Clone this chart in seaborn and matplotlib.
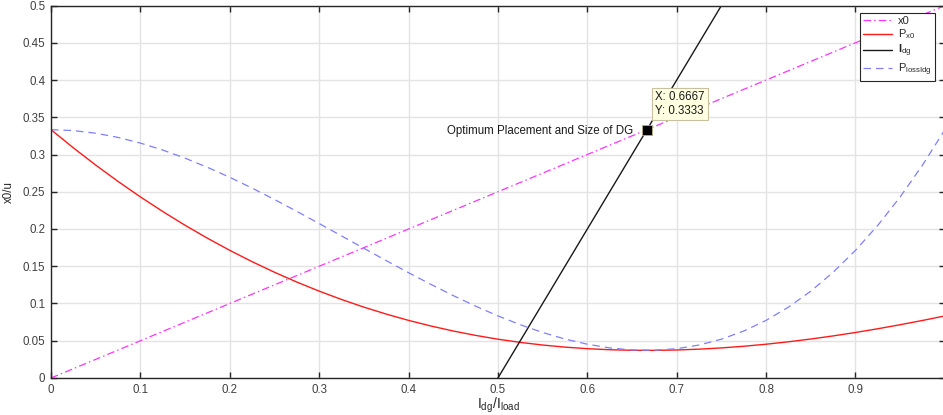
import matplotlib
matplotlib.use("Agg")
import matplotlib.pyplot as plt
import numpy as np
import pandas as pd
import seaborn as sns

# Normalised DG current I_dg / I_load
ratio = [0.0, 0.025, 0.05, 0.075, 0.1, 0.125, 0.15, 0.175, 0.2, 0.225, 0.25,
         0.275, 0.3, 0.325, 0.35, 0.375, 0.4, 0.425, 0.45, 0.475, 0.5,
         0.525, 0.55, 0.575, 0.6, 0.625, 0.65, 0.675, 0.7, 0.725, 0.75,
         0.775, 0.8, 0.825, 0.85, 0.875, 0.9, 0.925, 0.95, 0.975, 1.0]

# DG location x0 along the feeder
x0_vals = [0.0, 0.0125, 0.025, 0.0375, 0.05, 0.0625, 0.075, 0.0875, 0.1, 0.1125, 0.125,
           0.1375, 0.15, 0.1625, 0.175, 0.1875, 0.2, 0.2125, 0.225, 0.2375, 0.25,
           0.2625, 0.275, 0.2875, 0.3, 0.3125, 0.325, 0.3375, 0.35, 0.3625, 0.375,
           0.3875, 0.4, 0.4125, 0.425, 0.4375, 0.45, 0.4625, 0.475, 0.4875, 0.5]

# Losses with DG at x0
px0_vals = [0.33333, 0.30895, 0.28580, 0.26385, 0.24308, 0.22347, 0.20499, 0.18762,
            0.17133, 0.15611, 0.14193, 0.12876, 0.11658, 0.10538, 0.09511, 0.08578,
            0.07733, 0.06977, 0.06305, 0.05717, 0.05208, 0.04778, 0.04424, 0.04143,
            0.03933, 0.03792, 0.03718, 0.03707, 0.03758, 0.03869, 0.04036, 0.04259,
            0.04533, 0.04858, 0.05230, 0.05648, 0.06108, 0.06610, 0.07149, 0.07724,
            0.08333]

# Losses as a function of DG current
ploss_vals = [0.33333, 0.33211, 0.32858, 0.32293, 0.31533, 0.30599, 0.29508, 0.28280,
              0.26933, 0.25487, 0.23958, 0.22368, 0.20733, 0.19074, 0.17408, 0.15755,
              0.14133, 0.12562, 0.11058, 0.09643, 0.08333, 0.07149, 0.06108, 0.05230,
              0.04533, 0.04037, 0.03758, 0.03718, 0.03933, 0.04424, 0.05208, 0.06305,
              0.07733, 0.09512, 0.11658, 0.14193, 0.17133, 0.20499, 0.24308, 0.28580,
              0.33333]

# I_dg line
idg_x = [0.5, 0.75]
idg_y = [0.0, 0.5]

# Optimum point
opt_x = 0.6667
opt_y = 0.3333

x_ticks = [0, 0.1, 0.2, 0.3, 0.4, 0.5, 0.6, 0.7, 0.8, 0.9, 1]
x_tick_labels = ["0", "0.1", "0.2", "0.3", "0.4", "0.5", "0.6", "0.7", "0.8", "0.9", "1"]
y_ticks = [0, 0.05, 0.1, 0.15, 0.2, 0.25, 0.3, 0.35, 0.4, 0.45, 0.5]
y_tick_labels = ["0", "0.05", "0.1", "0.15", "0.2", "0.25", "0.3", "0.35", "0.4", "0.45", "0.5"]

sns.set_theme(style="whitegrid")
plt.rcParams["font.family"] = ["Liberation Sans", "DejaVu Sans"]
plt.rcParams["mathtext.fontset"] = "custom"
plt.rcParams["mathtext.rm"] = "Liberation Sans"
plt.rcParams["mathtext.it"] = "Liberation Sans"
plt.rcParams["mathtext.bf"] = "Liberation Sans:bold"

fig = plt.figure(figsize=(9.43, 4.15), dpi=100)
ax = fig.add_axes([0.0541, 0.0892, 0.9459 + 0.002, 0.8975])

curves = pd.DataFrame({"ratio": ratio, "x0": x0_vals, "px0": px0_vals, "ploss": ploss_vals})
idg = pd.DataFrame({"x": idg_x, "y": idg_y})

sns.lineplot(data=curves, x="ratio", y="x0", ax=ax, color="#ff33ff", lw=0.9,
             linestyle=(0, (6, 2.5, 1.2, 2.5)), label="x0", estimator=None, sort=False)
sns.lineplot(data=curves, x="ratio", y="px0", ax=ax, color="#ff1a1a", lw=1.0,
             label=r"P$_{\mathregular{x0}}$", estimator=None, sort=False)
sns.lineplot(data=idg, x="x", y="y", ax=ax, color="#1a1a1a", lw=1.0,
             label=r"$\mathbf{I}_{\mathregular{dg}}$", estimator=None, sort=False)
sns.lineplot(data=curves, x="ratio", y="ploss", ax=ax, color="#7f7fff", lw=0.9,
             linestyle=(0, (6, 4)), label=r"P$_{\mathregular{lossIdg}}$",
             estimator=None, sort=False)

sns.scatterplot(x=[opt_x], y=[opt_y], ax=ax, marker="s", s=45, color="black",
                edgecolor="#b8b080", linewidth=0.6, zorder=5, legend=False)

ax.annotate("X: 0.6667\nY: 0.3333", xy=(opt_x, opt_y), xytext=(6, 9),
            textcoords="offset points", fontsize=8.3, color="#1a1a1a",
            ha="left", va="bottom", linespacing=1.25,
            bbox=dict(boxstyle="square,pad=0.25", fc="#ffffe1", ec="#c8c0a0", lw=0.8),
            zorder=6)
ax.annotate("Optimum Placement and Size of DG", xy=(opt_x, opt_y), xytext=(-10, -1),
            textcoords="offset points", fontsize=8.3, color="#1a1a1a",
            ha="right", va="center", zorder=6)

ax.set_xlim(0, 1)
ax.set_ylim(0, 0.5)
ax.set_xticks(x_ticks)
ax.set_xticklabels(x_tick_labels)
ax.set_yticks(y_ticks)
ax.set_yticklabels(y_tick_labels)
ax.tick_params(axis="both", which="both", direction="in", length=4.5, width=1.0,
               colors="#262626", labelsize=8.3, top=True, right=True,
               bottom=True, left=True, pad=4)
ax.tick_params(axis="x", labelcolor="#404040")
ax.tick_params(axis="y", labelcolor="#404040")
ax.grid(True, color="#e3e3e3", lw=1.0)
ax.set_facecolor("white")
for s in ax.spines.values():
    s.set_visible(True)
    s.set_color("#262626")
    s.set_linewidth(1.0)

ax.set_xlabel(r"I$_{\mathregular{dg}}$/I$_{\mathregular{load}}$", fontsize=10, color="#262626",
              labelpad=0)
ax.set_ylabel("x0/u", fontsize=8.3, color="#262626", labelpad=6)

leg = ax.legend(loc="upper right", bbox_to_anchor=(0.9888, 0.981), fontsize=8,
                frameon=True, fancybox=False, framealpha=1, edgecolor="#262626",
                handlelength=2.6, handletextpad=0.5, borderpad=0.3, labelspacing=0.15,
                borderaxespad=0)
leg.get_frame().set_linewidth(0.8)

fig.savefig("out.png", dpi=100, facecolor="white")
